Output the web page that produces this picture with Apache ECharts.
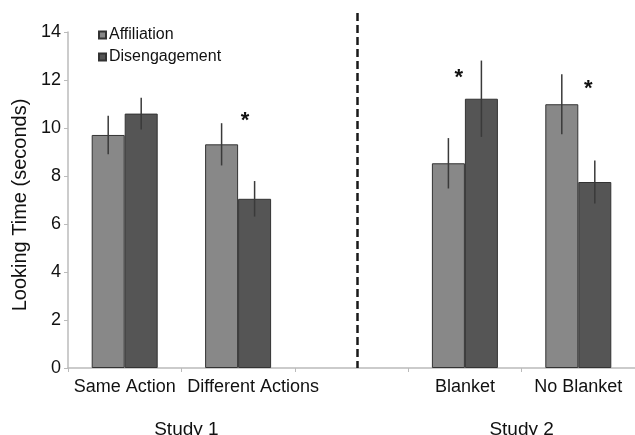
<!DOCTYPE html>
<html>
<head>
<meta charset="utf-8">
<script src="https://cdn.jsdelivr.net/npm/echarts@6/dist/echarts.min.js"></script>
<style>
html,body{margin:0;padding:0;background:#fff;}
#chart{width:635px;height:435px;}
</style>
</head>
<body>
<div id="chart"></div>
<script>
var categories = ['Same Action', 'Different Actions', '', 'Blanket', 'No Blanket'];
var affiliation = [9.71, 9.32, null, 8.53, 10.99];
var affiliationErr = [0.8, 0.88, null, 1.05, 1.25];
var disengagement = [10.6, 7.05, null, 11.22, 7.75];
var disengagementErr = [0.66, 0.74, null, 1.59, 0.9];
// significance stars: [category index, y value]
var stars = [[1, 10.28], [3, 12.08], [4, 11.63]];
var starOffsets = [7, -6, 10];
var yTicks = [0, 2, 4, 6, 8, 10, 12, 14];
var studyLabels = ['Study 1', 'Study 2'];

var FONT = '"Liberation Sans", Arial, Helvetica, sans-serif';
var BAR_W = 33;

function errData(vals, errs) {
  var out = [];
  for (var i = 0; i < vals.length; i++) {
    if (vals[i] != null) out.push([i, vals[i] - errs[i], vals[i] + errs[i]]);
  }
  return out;
}

function errRender(side) {
  return function (params, api) {
    var c = api.value(0);
    var lo = api.coord([c, api.value(1)]);
    var hi = api.coord([c, api.value(2)]);
    var x = lo[0] + side * BAR_W / 2;
    return {
      type: 'line',
      shape: { x1: x, y1: lo[1], x2: x, y2: hi[1] },
      style: { stroke: '#3a3a3a', lineWidth: 1.5 }
    };
  };
}

var xData = categories.map(function (c, i) {
  if (i === 1) return { value: c, textStyle: { padding: [0, 0, 0, 30] } };
  return c;
});

var chart = echarts.init(document.getElementById('chart'));
var option = {
  animation: false,
  backgroundColor: '#fff',
  grid: { left: 68, top: 32, bottom: 67, width: 569 },
  legend: {
    orient: 'vertical',
    left: 93, top: 22,
    itemWidth: 7, itemHeight: 7, itemGap: 6,
    icon: 'rect',
    textStyle: { fontFamily: FONT, fontSize: 16, color: '#111', padding: [0, 0, 0, -2] },
    data: ['Affiliation', 'Disengagement']
  },
  xAxis: {
    type: 'category',
    data: xData,
    axisLine: { lineStyle: { color: '#bbbbbb', width: 1.5 } },
    axisTick: { show: true, interval: 0, length: 4, lineStyle: { color: '#bbbbbb' } },
    axisLabel: { interval: 0, margin: 10, fontFamily: FONT, fontSize: 18, color: '#111' },
    splitLine: { show: false }
  },
  yAxis: {
    type: 'value',
    min: 0, max: 14, interval: 2,
    name: 'Looking Time (seconds)',
    nameLocation: 'middle',
    nameGap: 35,
    nameTextStyle: { fontFamily: FONT, fontSize: 20, color: '#111', padding: [0, 10, 0, 0] },
    axisLine: { show: true, lineStyle: { color: '#bbbbbb', width: 1.5 } },
    axisTick: { show: true, length: 4, lineStyle: { color: '#bbbbbb' } },
    axisLabel: {
      margin: 7, fontFamily: FONT, fontSize: 18, color: '#111',
      formatter: function (v) { return yTicks.indexOf(v) >= 0 ? String(v) : ''; }
    },
    splitLine: { show: false }
  },
  series: [
    {
      name: 'Affiliation', type: 'bar', data: affiliation,
      barWidth: BAR_W, barGap: '0%',
      itemStyle: { color: '#888888', borderColor: '#333333', borderWidth: 1 }
    },
    {
      name: 'Disengagement', type: 'bar', data: disengagement,
      barWidth: BAR_W, barGap: '0%',
      itemStyle: { color: '#555555', borderColor: '#333333', borderWidth: 1 }
    },
    {
      type: 'custom', name: 'errA', data: errData(affiliation, affiliationErr),
      renderItem: errRender(-1), encode: { x: 0, y: [1, 2] }, z: 10, silent: true
    },
    {
      type: 'custom', name: 'errD', data: errData(disengagement, disengagementErr),
      renderItem: errRender(1), encode: { x: 0, y: [1, 2] }, z: 10, silent: true
    },
    {
      type: 'custom', name: 'stars', data: stars, z: 11, silent: true,
      encode: { x: 0, y: 1 },
      renderItem: function (params, api) {
        var p = api.coord([api.value(0), api.value(1)]);
        return {
          type: 'text',
          style: {
            text: '*', x: p[0] + starOffsets[params.dataIndex], y: p[1],
            textAlign: 'center', textVerticalAlign: 'middle',
            fontFamily: FONT, fontSize: 22, fontWeight: 'bold', fill: '#111'
          }
        };
      }
    }
  ]
};
chart.setOption(option);

var c0 = chart.convertToPixel({ xAxisIndex: 0 }, 0);
var c1 = chart.convertToPixel({ xAxisIndex: 0 }, 1);
var c2 = chart.convertToPixel({ xAxisIndex: 0 }, 2);
var c3 = chart.convertToPixel({ xAxisIndex: 0 }, 3);
var c4 = chart.convertToPixel({ xAxisIndex: 0 }, 4);
var yBottom = chart.convertToPixel({ yAxisIndex: 0 }, 0);

chart.setOption({
  graphic: [
    {
      type: 'line', z: 20,
      shape: { x1: c2 + 6, y1: 13, x2: c2 + 6, y2: yBottom },
      style: { stroke: '#1a1a1a', lineWidth: 2.5, lineDash: [8, 4] }
    },
    {
      type: 'text', z: 20,
      style: { text: studyLabels[0], x: (c0 + c1) / 2 + 5, y: 430, textAlign: 'center', textVerticalAlign: 'middle',
        fontFamily: FONT, fontSize: 19, fill: '#111' }
    },
    {
      type: 'text', z: 20,
      style: { text: studyLabels[1], x: (c3 + c4) / 2, y: 430, textAlign: 'center', textVerticalAlign: 'middle',
        fontFamily: FONT, fontSize: 19, fill: '#111' }
    }
  ]
});
</script>
</body>
</html>
